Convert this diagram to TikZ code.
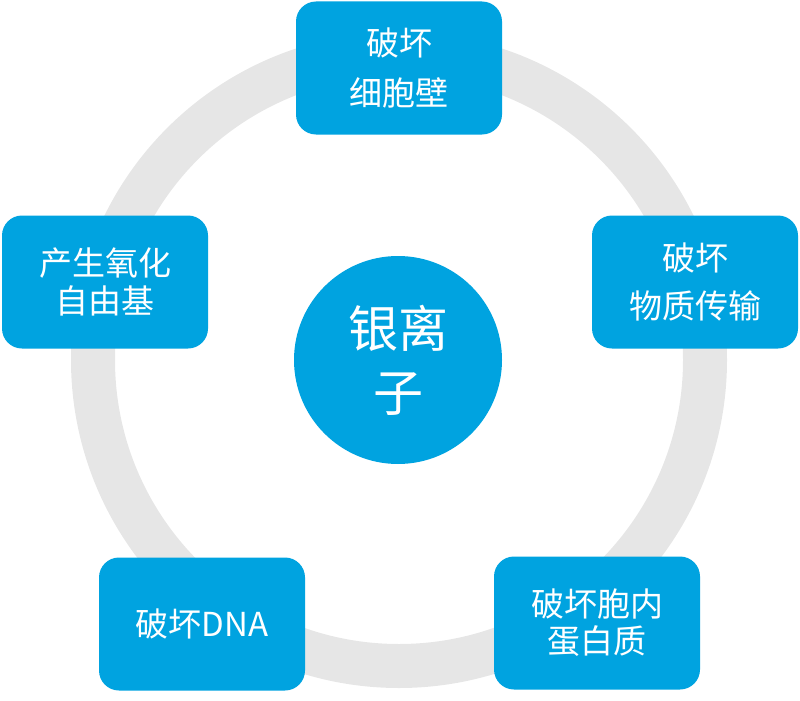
\documentclass[tikz,border=0pt]{standalone}
\usepackage{fontspec}
\newfontfamily\cjk{Noto Sans CJK SC}
\definecolor{ionblue}{RGB}{0,163,224}
\definecolor{ringgray}{RGB}{230,230,230}

\begin{document}
\begin{tikzpicture}[x=1pt,y=-1pt,
  effect/.style={rectangle,rounded corners=20pt,fill=ionblue,text=white,
    minimum width=206pt,minimum height=133pt,align=center,inner sep=0pt},
  small/.style={font=\cjk\fontsize{33}{#1}\selectfont}]
\useasboundingbox (0,0) rectangle (800,701);

% Ring
\draw[ringgray,line width=44pt] (399,360) circle (306pt);

% Centre
\node[circle,fill=ionblue,text=white,minimum size=208pt,align=center,
  font=\cjk\fontsize{50}{64}\selectfont] (ion) at (398,360) {银离\\子};

% Effects
\node[effect,small=50] (wall) at (399,68) {破坏\\细胞壁};
\node[effect,small=48] (transport) at (695,282) {破坏\\物质传输};
\node[effect,small=38] (radical) at (105,282) {产生氧化\\自由基};
\node[effect,small=38] (dna) at (202,624) {破坏DNA};
\node[effect,small=37] (protein) at (597,623) {破坏胞内\\蛋白质};
\end{tikzpicture}
\end{document}
